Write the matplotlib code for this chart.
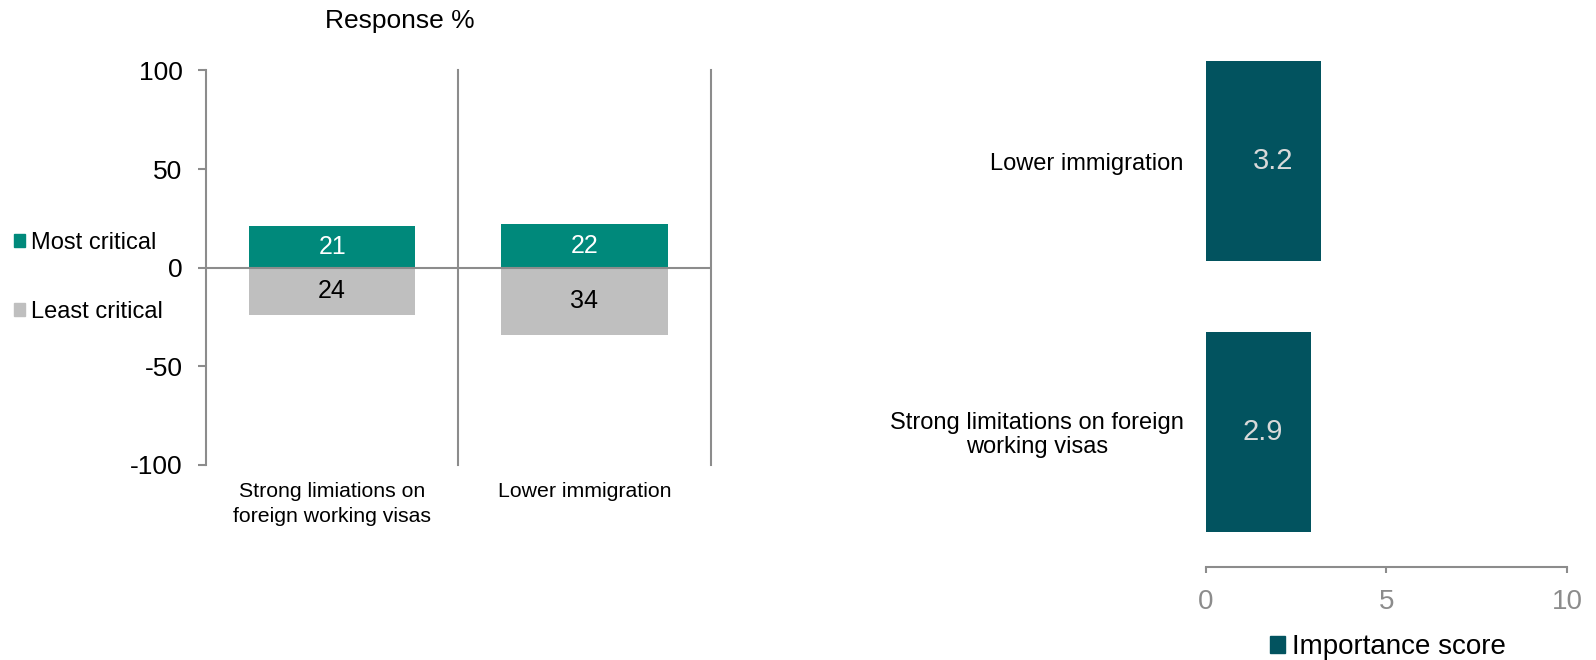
import matplotlib
matplotlib.use("Agg")
import matplotlib.pyplot as plt
from matplotlib.patches import Patch

plt.rcParams["font.family"] = ["Liberation Sans", "DejaVu Sans"]
plt.rcParams["axes.unicode_minus"] = False

# Left panel: share of respondents ranking each policy most / least critical
policies = ["Strong limiations on\nforeign working visas", "Lower immigration"]
most_critical = [21, 22]
least_critical = [24, 34]
response_ticks = [-100, -50, 0, 50, 100]

# Right panel: average importance score per policy (bottom to top)
score_labels = ["Strong limitations on foreign\nworking visas", "Lower immigration"]
importance = [2.9, 3.2]
score_ticks = [0, 5, 10]

TEAL = "#00897B"
GREY_BAR = "#BFBFBF"
DARK_TEAL = "#02535F"
AXIS_GREY = "#8C8C8C"

fig = plt.figure(figsize=(15.96, 6.6), dpi=100)
ax1 = fig.add_axes([0.1291, 0.2955, 0.3161, 0.5977])
ax2 = fig.add_axes([0.7556, 0.1409, 0.2262, 0.8197])

# --- diverging bars ---
x = list(range(len(policies)))
top = ax1.bar(x, most_critical, width=0.66, color=TEAL, zorder=2)
bottom = ax1.bar(x, [-v for v in least_critical], width=0.66, color=GREY_BAR, zorder=2)
ax1.bar_label(top, labels=[str(v) for v in most_critical], label_type="center",
              color="white", fontsize=18)
ax1.bar_label(bottom, labels=[str(v) for v in least_critical], label_type="center",
              color="black", fontsize=18)

ax1.set_xlim(-0.5, len(policies) - 0.5)
ax1.set_ylim(response_ticks[0], response_ticks[-1])
ax1.set_yticks(response_ticks)
ax1.tick_params(axis="y", length=6, width=1.5, color=AXIS_GREY, pad=11, labelsize=19)
ax1.set_xticks(x)
ax1.set_xticklabels(policies, fontsize=15.3, linespacing=1.4)
ax1.tick_params(axis="x", length=0, pad=12)
for s in ("top", "right", "bottom"):
    ax1.spines[s].set_visible(False)
ax1.spines["left"].set_color(AXIS_GREY)
ax1.spines["left"].set_linewidth(1.5)
ax1.axhline(0, color=AXIS_GREY, lw=1.5, zorder=3)
for i in x:
    ax1.axvline(i + 0.5, color=AXIS_GREY, lw=1.5, clip_on=False, zorder=1)

ax1.legend(handles=[Patch(color=TEAL, label="Most critical"),
                    Patch(color=GREY_BAR, label="Least critical")],
           loc="center left", bbox_to_anchor=(14 / 1596, 0.58),
           bbox_transform=fig.transFigure, frameon=False, fontsize=17,
           handlelength=0.45, handleheight=0.45, handletextpad=0.25,
           labelspacing=2.0, borderpad=0, borderaxespad=0)

fig.text(400 / 1596, 1 - 21 / 660, "Response %", ha="center", va="center", fontsize=19)

# --- importance score ---
y = list(range(len(score_labels)))
ax2.barh(y, importance, height=0.74, color=DARK_TEAL)
for yi, v in zip(y, importance):
    ax2.annotate(f"{v:.1f}", (v, yi), xytext=(-20, 0), textcoords="offset points",
                 ha="right", va="center", color="#D9D9D9", fontsize=21)

ax2.set_xlim(score_ticks[0], score_ticks[-1])
ax2.set_ylim(-0.5, len(score_labels) - 0.5)
ax2.set_xticks(score_ticks)
ax2.set_yticks(y)
ax2.set_yticklabels(score_labels, fontsize=17, linespacing=1.1, multialignment="center")
ax2.tick_params(axis="y", length=0, pad=16)
ax2.tick_params(axis="x", length=4.5, width=1.5, color=AXIS_GREY,
                labelcolor=AXIS_GREY, labelsize=20, pad=11)
for s in ("top", "right", "left"):
    ax2.spines[s].set_visible(False)
ax2.spines["bottom"].set_color(AXIS_GREY)
ax2.spines["bottom"].set_linewidth(1.5)

ax2.legend(handles=[Patch(color=DARK_TEAL, label="Importance score")],
           loc="center", bbox_to_anchor=(0.8694, 0.019),
           bbox_transform=fig.transFigure, frameon=False, fontsize=20,
           handlelength=0.54, handleheight=0.54, handletextpad=0.25,
           borderpad=0, borderaxespad=0)

fig.savefig("out.png", dpi=100)
